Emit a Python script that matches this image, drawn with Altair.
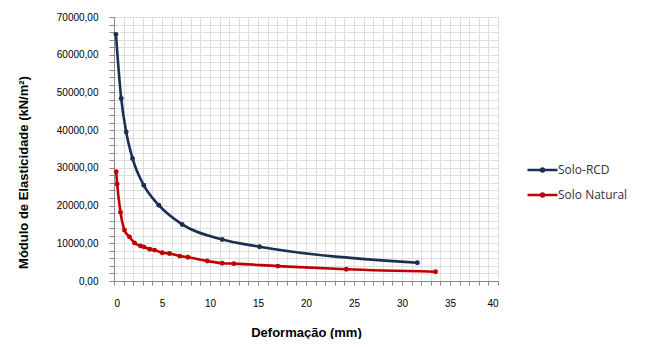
import altair as alt
import pandas as pd

rcd_x = [0.2, 0.75, 1.27, 1.93, 3.1, 4.67, 7.1, 11.27, 15.16, 31.6]
rcd_y = [65400, 48400, 39500, 32500, 25400, 20100, 15000, 11000, 9100, 4850]

nat_x = [0.23, 0.33, 0.68, 1.09, 1.61, 2.14, 2.76, 3.1, 3.73, 4.22, 5.02, 5.78,
         6.85, 7.69, 9.71, 11.27, 12.48, 17.06, 24.2, 33.5]
nat_y = [28950, 25700, 18200, 13500, 11700, 10100, 9300, 9050, 8400, 8200, 7500, 7300,
         6600, 6300, 5300, 4700, 4600, 3950, 3100, 2450]

series = ["Solo-RCD", "Solo Natural"]
colors = ["#1B2F52", "#C00000"]

df = pd.concat([
    pd.DataFrame({"x": rcd_x, "y": rcd_y, "s": series[0], "o": range(len(rcd_x))}),
    pd.DataFrame({"x": nat_x, "y": nat_y, "s": series[1], "o": range(len(nat_x))}),
])

FONT = "Open Sans"
x_vals = list(range(0, 41))
y_vals = list(range(0, 70001, 2000))

chart = alt.Chart(df).mark_line(
    strokeWidth=2.6,
    interpolate="monotone",
    point=alt.OverlayMarkDef(filled=True, size=24, opacity=1),
).encode(
    x=alt.X("x:Q", title="Deformação (mm)",
            scale=alt.Scale(domain=[0, 40], nice=False),
            axis=alt.Axis(values=x_vals,
                          labelExpr="datum.value % 5 == 0 ? datum.label : ''",
                          labelPadding=13, tickSize=4,
                          titleY=51, titleBaseline="middle", titleFontSize=13)),
    y=alt.Y("y:Q", title="Módulo de Elasticidade (kN/m²)",
            scale=alt.Scale(domain=[0, 70000], nice=False),
            axis=alt.Axis(values=y_vals,
                          labelExpr="datum.value % 10000 == 0 ? replace(format(datum.value, '.2f'), '.', ',') : ''",
                          labelPadding=11, tickSize=5,
                          titleX=-91, titleY=155, titleBaseline="middle", titleFontSize=13)),
    color=alt.Color("s:N", scale=alt.Scale(domain=series, range=colors),
                    legend=alt.Legend(title=None, orient="none", legendX=414.5, legendY=139,
                                      symbolType="M-1.2,0L1.2,0M-0.12,0A0.12,0.12 0 1,0 0.12,0A0.12,0.12 0 1,0 -0.12,0",
                                      symbolSize=625, symbolStrokeWidth=2.5,
                                      rowPadding=4, labelFontSize=12, labelFont=FONT,
                                      labelColor="#333333", labelOffset=1.5)),
    order="o:Q",
).properties(
    width=384, height=264,
    autosize=alt.AutoSizeParams(type="none"),
    padding={"left": 106, "top": 9, "right": 140, "bottom": 58},
).configure_view(stroke=None).configure_axis(
    gridColor="#C4C4C4", gridWidth=1, domainColor="#A6A6A6", tickColor="#A6A6A6",
    labelFont=FONT, labelFontSize=13.5, labelColor="#333333",
    titleFont=FONT, titleFontWeight="bold", titleColor="#222222",
).configure(background="white")

chart.save("out.html", embed_options={"renderer": "svg", "actions": False})
